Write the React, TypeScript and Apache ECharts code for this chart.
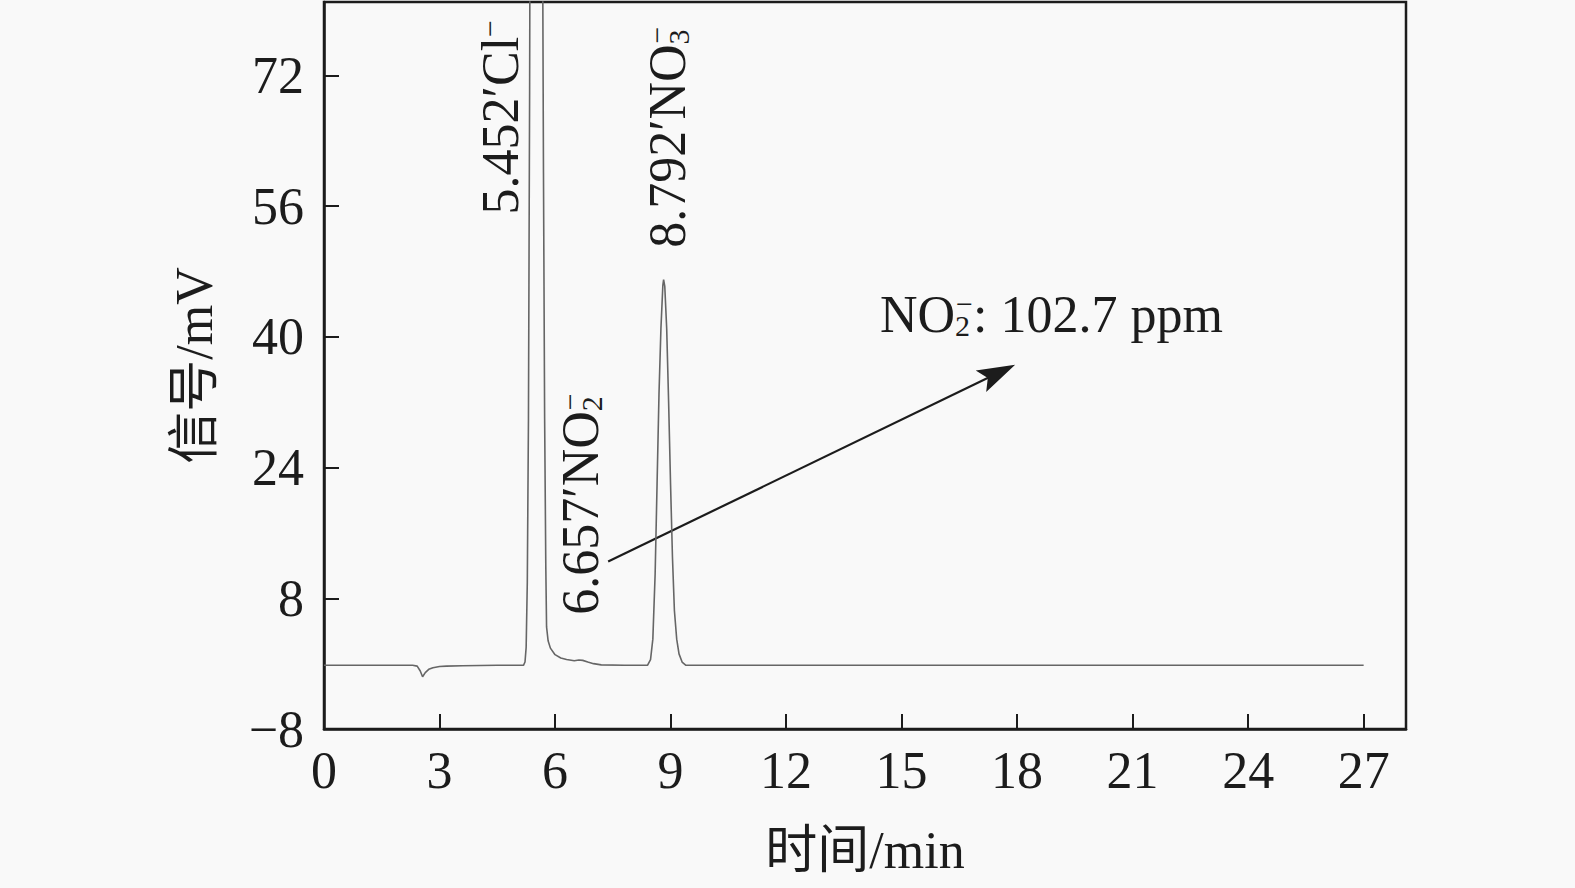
import React, { useEffect, useRef } from 'react';
import * as echarts from 'echarts';

// ---- data ----
const timeMin = [
  0, 1.2, 2.3, 2.42, 2.5, 2.56, 2.63, 2.72, 2.83, 3.0, 3.18, 3.6, 4.5, 5.18,
  5.22, 5.25, 5.28, 5.31, 5.34, 5.36, 5.42, 5.5, 5.6, 5.66, 5.7, 5.73, 5.76,
  5.78, 5.82, 5.88, 6.0, 6.15, 6.3, 6.5, 6.62, 6.72, 6.85, 7.0, 7.2, 7.8, 8.4,
  8.48, 8.54, 8.6, 8.65, 8.7, 8.75, 8.8, 8.82, 8.85, 8.9, 8.95, 9.0, 9.05, 9.1,
  9.16, 9.22, 9.3, 9.4, 10, 12, 14, 16, 18, 20, 22, 24, 26, 27,
];
const signalMv = [
  -0.2, -0.2, -0.2, -0.3, -0.9, -1.6, -1.1, -0.7, -0.5, -0.35, -0.3, -0.25, -0.2, -0.2,
  0.2, 2, 10, 30, 70, 110, 180, 210, 170, 110, 60, 30, 12,
  4.5, 2.8, 1.9, 1.1, 0.7, 0.5, 0.35, 0.45, 0.4, 0.2, 0, -0.15, -0.2, -0.2,
  0.5, 3, 11, 22, 33, 41, 46.3, 47, 46.2, 41, 32, 22, 13, 6.5,
  3, 1.2, 0.2, -0.2, -0.2, -0.2, -0.2, -0.2, -0.2, -0.2, -0.2, -0.2, -0.2, -0.2,
];
const xTickValues = [0, 3, 6, 9, 12, 15, 18, 21, 24, 27];
const yTickValues = [-8, 8, 24, 40, 56, 72];

const peakLabelText = [
  '{n|5.452′Cl}{p|−}',
  '{n|6.657′NO}{b|2}{p|−}',
  '{n|8.792′NO}{b|3}{p|−}',
];
const peakLabelAt = [
  [4.59, 55.0],
  [6.67, 6.0],
  [8.92, 50.9],
];
const noteText = '{n|NO}{b|2}{p|−}{n|: 102.7 ppm}';
const noteAt = [14.44, 42.7];
const arrowFrom = [7.38, 12.5];
const arrowTo = [17.95, 36.6];

const SERIF = "'Liberation Serif', 'Times New Roman', 'Noto Sans CJK SC', serif";
const INK = '#1c1c1c';

const fmtNum = (v: number) => (v < 0 ? '−' + Math.abs(v) : String(v));

const RICH = {
  n: { fontSize: 52, lineHeight: 52, fontFamily: SERIF, fill: INK },
  b: { fontSize: 30, lineHeight: 16, fontFamily: SERIF, fill: INK, verticalAlign: 'bottom', width: 1 },
  p: { fontSize: 30, lineHeight: 8, fontFamily: SERIF, fill: INK, verticalAlign: 'top' },
};

export default function App() {
  const ref = useRef<HTMLDivElement>(null);
  useEffect(() => {
    const chart = echarts.init(ref.current!, null, { renderer: 'svg' });
    const data = timeMin.map((t, i) => [t, signalMv[i]]);
    chart.setOption({
      animation: false,
      backgroundColor: 'transparent',
      textStyle: { fontFamily: SERIF },
      grid: {
        left: 324, right: 169, top: 2, bottom: 159,
        show: true, borderColor: INK, borderWidth: 2.5, backgroundColor: 'transparent',
      },
      xAxis: {
        type: 'value', min: 0, max: 28.1,
        name: '时间/min', nameLocation: 'middle', nameGap: 95,
        nameTextStyle: { fontSize: 52, fontFamily: SERIF, color: INK },
        axisLine: { show: true, onZero: false, lineStyle: { color: INK, width: 2.5 } },
        axisTick: { show: true, inside: true, length: 15, lineStyle: { color: INK, width: 2 }, customValues: xTickValues },
        axisLabel: { customValues: xTickValues, fontSize: 52, fontFamily: SERIF, color: INK, margin: 15, formatter: fmtNum },
        splitLine: { show: false },
      },
      yAxis: {
        type: 'value', min: -8, max: 81,
        name: '信号/mV', nameLocation: 'middle', nameGap: 104,
        nameTextStyle: { fontSize: 52, fontFamily: SERIF, color: INK },
        axisLine: { show: true, onZero: false, lineStyle: { color: INK, width: 2.5 } },
        axisTick: { show: true, inside: true, length: 15, lineStyle: { color: INK, width: 2 }, customValues: yTickValues },
        axisLabel: { customValues: yTickValues, fontSize: 52, fontFamily: SERIF, color: INK, margin: 20, formatter: fmtNum },
        splitLine: { show: false },
      },
      series: [
        {
          type: 'line', data, showSymbol: false, symbol: 'none', silent: true, clip: true,
          lineStyle: { color: '#666666', width: 1.6 },
        },
      ],
    });

    const px = (p: number[]) => chart.convertToPixel({ gridIndex: 0 }, p) as number[];
    const graphics: any[] = [];
    peakLabelText.forEach((text, i) => {
      const [x, y] = px(peakLabelAt[i]);
      graphics.push({
        type: 'text', x, y, rotation: Math.PI / 2, silent: true,
        style: { text, rich: RICH, align: 'left', verticalAlign: 'middle', fill: INK, fontSize: 52, fontFamily: SERIF },
      });
    });
    const [nx, ny] = px(noteAt);
    graphics.push({
      type: 'text', x: nx, y: ny, silent: true,
      style: { text: noteText, rich: RICH, align: 'left', verticalAlign: 'middle', fill: INK, fontSize: 52, fontFamily: SERIF },
    });
    const p1 = px(arrowFrom);
    const p2 = px(arrowTo);
    const dx = p2[0] - p1[0];
    const dy = p2[1] - p1[1];
    const len = Math.hypot(dx, dy);
    const ux = dx / len, uy = dy / len;
    const nxv = -uy, nyv = ux;
    const L = 38, W = 12;
    graphics.push({
      type: 'line', silent: true,
      shape: { x1: p1[0], y1: p1[1], x2: p2[0] - ux * L * 0.7, y2: p2[1] - uy * L * 0.7 },
      style: { stroke: INK, lineWidth: 2.2 },
    });
    graphics.push({
      type: 'polygon', silent: true,
      shape: {
        points: [
          [p2[0], p2[1]],
          [p2[0] - ux * L + nxv * W, p2[1] - uy * L + nyv * W],
          [p2[0] - ux * L * 0.8, p2[1] - uy * L * 0.8],
          [p2[0] - ux * L - nxv * W, p2[1] - uy * L - nyv * W],
        ],
      },
      style: { fill: INK },
    });
    chart.setOption({ graphic: graphics });

    return () => chart.dispose();
  }, []);

  return (
    <div
      ref={ref}
      style={{ position: 'fixed', left: 0, top: 0, width: 1575, height: 888, background: '#f9f9f9' }}
    />
  );
}
